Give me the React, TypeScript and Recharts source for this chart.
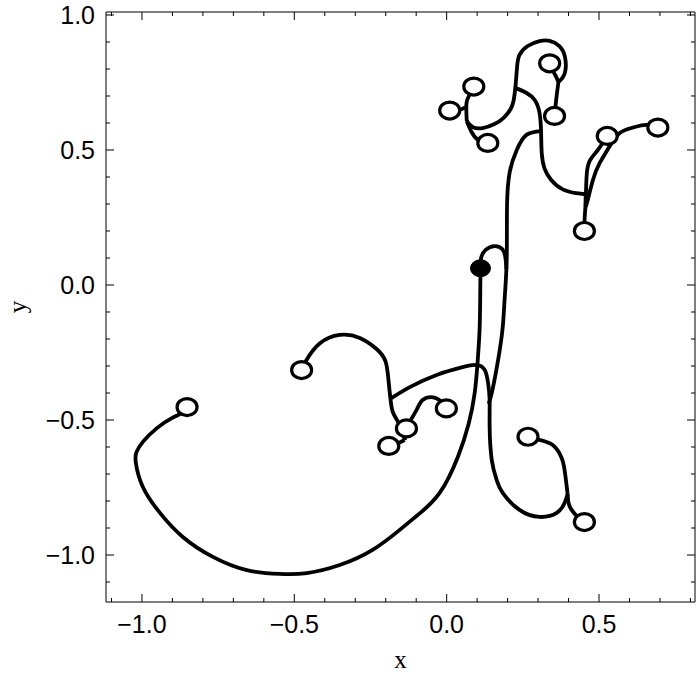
import { ScatterChart, Scatter, XAxis, YAxis } from "recharts";

// open circles (end points) and the filled start point
const openX = [0.010, 0.089, 0.135, 0.338, 0.354, 0.527, 0.693, 0.452, 0.267, 0.452, -0.001, -0.132, -0.190, -0.852, -0.476];
const openY = [0.646, 0.735, 0.526, 0.821, 0.626, 0.552, 0.583, 0.200, -0.562, -0.878, -0.457, -0.531, -0.596, -0.452, -0.315];
const startX = [0.111];
const startY = [0.062];

// trajectory pieces, [x, y]
const trunkToC14 = [
  [0.111, 0.059], [0.110, -0.056], [0.108, -0.167], [0.102, -0.278], [0.092, -0.400],
  [0.072, -0.515], [0.037, -0.636], [-0.023, -0.770], [-0.095, -0.852], [-0.154, -0.907],
  [-0.243, -0.981], [-0.351, -1.037], [-0.459, -1.067], [-0.548, -1.070], [-0.656, -1.056],
  [-0.767, -1.007], [-0.866, -0.933], [-0.941, -0.844], [-0.997, -0.748], [-1.020, -0.659],
  [-1.018, -0.619], [-0.997, -0.581], [-0.951, -0.530], [-0.902, -0.493], [-0.869, -0.474],
  [-0.852, -0.452],
];
const hook = [
  [0.111, 0.059], [0.113, 0.100], [0.128, 0.130], [0.157, 0.144], [0.183, 0.132],
  [0.193, 0.100], [0.196, 0.060],
];
const trunkRight = [
  [0.310, 0.570], [0.262, 0.556], [0.230, 0.500], [0.207, 0.419], [0.198, 0.289],
  [0.197, 0.093], [0.190, -0.056], [0.184, -0.156], [0.170, -0.270], [0.150, -0.390],
  [0.138, -0.440],
];
const loopToN3 = [
  [-0.183, -0.420], [-0.121, -0.378], [-0.033, -0.333], [0.052, -0.304], [0.098, -0.296],
  [0.125, -0.315], [0.136, -0.363], [0.141, -0.426], [0.141, -0.526], [0.148, -0.648],
  [0.164, -0.722], [0.184, -0.770], [0.239, -0.833], [0.305, -0.859], [0.361, -0.844],
  [0.387, -0.807], [0.397, -0.774],
];
const n3ToC9 = [[0.397, -0.774], [0.387, -0.685], [0.376, -0.637], [0.348, -0.593], [0.305, -0.574], [0.267, -0.562]];
const n3ToC10 = [[0.397, -0.774], [0.400, -0.807], [0.410, -0.833], [0.430, -0.859], [0.452, -0.878]];
const c15ToN4 = [
  [-0.476, -0.315], [-0.460, -0.278], [-0.416, -0.216], [-0.351, -0.185], [-0.285, -0.196],
  [-0.230, -0.237], [-0.200, -0.285], [-0.190, -0.363], [-0.184, -0.426], [-0.177, -0.470],
  [-0.161, -0.504], [-0.145, -0.540], [-0.138, -0.574],
];
const n4ToC13 = [[-0.138, -0.574], [-0.161, -0.586], [-0.190, -0.596]];
const n4ToC11 = [
  [-0.138, -0.574], [-0.132, -0.531], [-0.118, -0.500], [-0.099, -0.463], [-0.079, -0.426],
  [-0.050, -0.415], [-0.030, -0.422], [-0.013, -0.437], [-0.001, -0.457],
];
const topArc = [
  [0.066, 0.607], [0.085, 0.585], [0.118, 0.581], [0.157, 0.596], [0.187, 0.619],
  [0.210, 0.652], [0.220, 0.685], [0.226, 0.737], [0.231, 0.807], [0.239, 0.852],
  [0.266, 0.885], [0.305, 0.903], [0.338, 0.904], [0.370, 0.885], [0.388, 0.846],
  [0.390, 0.796], [0.380, 0.767], [0.367, 0.752],
];
const n5ToC4 = [[0.367, 0.752], [0.356, 0.778], [0.345, 0.802], [0.338, 0.821]];
const n5ToC5 = [[0.367, 0.752], [0.362, 0.710], [0.357, 0.660], [0.354, 0.626]];
const nlToC2 = [[0.066, 0.607], [0.065, 0.673], [0.075, 0.704], [0.089, 0.735]];
const c1Link = [[0.010, 0.646], [0.040, 0.648], [0.064, 0.660]];
const nlToC3 = [[0.066, 0.607], [0.081, 0.568], [0.103, 0.537], [0.135, 0.526]];
const branchToNR = [
  [0.226, 0.729], [0.261, 0.712], [0.289, 0.685], [0.305, 0.636], [0.310, 0.562],
  [0.312, 0.488], [0.321, 0.432], [0.343, 0.389], [0.381, 0.354], [0.425, 0.340],
  [0.456, 0.336],
];
const nrToC8 = [[0.456, 0.336], [0.456, 0.300], [0.453, 0.250], [0.452, 0.200]];
const nrToC6 = [[0.456, 0.290], [0.457, 0.333], [0.460, 0.414], [0.471, 0.463], [0.496, 0.500], [0.527, 0.552]];
const nrToC7 = [
  [0.456, 0.290], [0.463, 0.315], [0.480, 0.389], [0.502, 0.451], [0.534, 0.512],
  [0.567, 0.562], [0.611, 0.583], [0.655, 0.593], [0.693, 0.583],
];

const segments = [
  trunkToC14, hook, trunkRight, loopToN3, n3ToC9, n3ToC10, c15ToN4, n4ToC13, n4ToC11,
  topArc, n5ToC4, n5ToC5, nlToC2, c1Link, nlToC3, branchToNR, nrToC8, nrToC6, nrToC7,
];

const xTicks = [-1.1, -1.0, -0.9, -0.8, -0.7, -0.6, -0.5, -0.4, -0.3, -0.2, -0.1, 0, 0.1, 0.2, 0.3, 0.4, 0.5, 0.6, 0.7, 0.8];
const yTicks = [-1.1, -1.0, -0.9, -0.8, -0.7, -0.6, -0.5, -0.4, -0.3, -0.2, -0.1, 0, 0.1, 0.2, 0.3, 0.4, 0.5, 0.6, 0.7, 0.8, 0.9, 1.0];

const X_DOMAIN = [-1.118, 0.815];
const Y_DOMAIN = [-1.174, 1.011];

const toPts = (a: number[][]) => a.map(([x, y]) => ({ x, y }));
const zip = (xs: number[], ys: number[]) => xs.map((x, i) => ({ x, y: ys[i] }));

const isMajor = (v: number) => Math.abs(v * 2 - Math.round(v * 2)) < 1e-6;
const fmt = (v: number) => (v < 0 ? "\u2212" : "") + Math.abs(v).toFixed(1);
const labelFont = "'Liberation Sans', Arial, sans-serif";

const makeTick = (side: "bottom" | "top" | "left" | "right") => (props: any) => {
  const { x, y, payload } = props;
  const v = payload.value;
  const len = isMajor(v) ? 8 : 4;
  if (side === "bottom" || side === "top") {
    const dir = side === "bottom" ? -1 : 1;
    return (
      <g>
        <line x1={x} x2={x} y1={y} y2={y + dir * len} stroke="#000" strokeWidth={1} />
        {side === "bottom" && isMajor(v) && (
          <text x={x} y={y + 31} textAnchor="middle" fontSize={25} fontFamily={labelFont} fill="#000">
            {fmt(v)}
          </text>
        )}
      </g>
    );
  }
  const dir = side === "left" ? 1 : -1;
  return (
    <g>
      <line x1={x} x2={x + dir * len} y1={y} y2={y} stroke="#000" strokeWidth={1} />
      {side === "left" && isMajor(v) && (
        <text x={x - 11} y={y + 9} textAnchor="end" fontSize={25} fontFamily={labelFont} fill="#000">
          {fmt(v)}
        </text>
      )}
    </g>
  );
};

const OpenDot = (p: any) => (
  <ellipse cx={p.cx} cy={p.cy} rx={10} ry={8.5} fill="#fff" stroke="#000" strokeWidth={3.2} />
);
const FilledDot = (p: any) => (
  <ellipse cx={p.cx} cy={p.cy} rx={10} ry={8.5} fill="#000" stroke="#000" strokeWidth={1} />
);
const NoDot = () => <g />;

const XTitle = (p: any) => {
  const vb = p.viewBox;
  return (
    <text x={vb.x + vb.width / 2} y={vb.y + 66} textAnchor="middle" fontSize={25}
      fontFamily="'Liberation Serif', 'Times New Roman', serif" fill="#000">x</text>
  );
};
const YTitle = (p: any) => {
  const vb = p.viewBox;
  const cx = vb.x + 26;
  const cy = vb.y + vb.height / 2;
  return (
    <text x={cx} y={cy} textAnchor="middle" fontSize={25} transform={`rotate(-90 ${cx} ${cy})`}
      fontFamily="'Liberation Serif', 'Times New Roman', serif" fill="#000">y</text>
  );
};

export default function App() {
  return (
    <div style={{ width: 700, height: 686, background: "#fff" }}>
      <style>{"body{margin:0;background:#fff}"}</style>
      <ScatterChart width={700} height={686} margin={{ top: 11, right: 4, bottom: 0, left: 0 }}>
        <XAxis xAxisId="b" dataKey="x" type="number" domain={X_DOMAIN} ticks={xTicks} allowDataOverflow
          orientation="bottom" height={84} tickSize={0} tickMargin={0} tickLine={false}
          axisLine={{ stroke: "#000" }} tick={makeTick("bottom")} interval={0} label={<XTitle />} />
        <XAxis xAxisId="t" dataKey="x" type="number" domain={X_DOMAIN} ticks={xTicks} allowDataOverflow
          orientation="top" height={1} tickSize={0} tickMargin={0} tickLine={false}
          axisLine={{ stroke: "#000" }} tick={makeTick("top")} interval={0} />
        <YAxis yAxisId="l" dataKey="y" type="number" domain={Y_DOMAIN} ticks={yTicks} allowDataOverflow
          orientation="left" width={106} tickSize={0} tickMargin={0} tickLine={false}
          axisLine={{ stroke: "#000" }} tick={makeTick("left")} interval={0} label={<YTitle />} />
        <YAxis yAxisId="r" dataKey="y" type="number" domain={Y_DOMAIN} ticks={yTicks} allowDataOverflow
          orientation="right" width={1} tickSize={0} tickMargin={0} tickLine={false}
          axisLine={{ stroke: "#000" }} tick={makeTick("right")} interval={0} />
        {segments.map((seg, i) => (
          <Scatter key={i} xAxisId="b" yAxisId="l" data={toPts(seg)} shape={NoDot}
            line={{ stroke: "#000", strokeWidth: 3.8, fill: "none" }} lineJointType="natural"
            isAnimationActive={false} />
        ))}
        <Scatter xAxisId="b" yAxisId="l" data={zip(openX, openY)} shape={OpenDot} isAnimationActive={false} />
        <Scatter xAxisId="b" yAxisId="l" data={zip(startX, startY)} shape={FilledDot} isAnimationActive={false} />
      </ScatterChart>
    </div>
  );
}
